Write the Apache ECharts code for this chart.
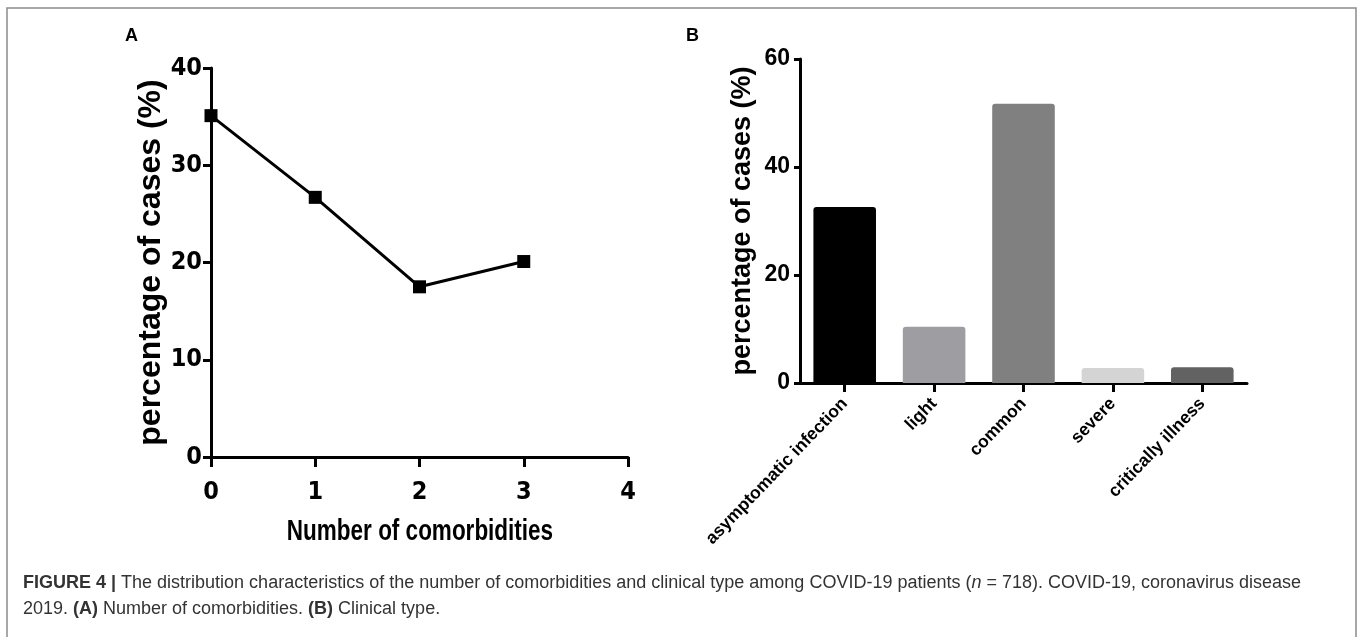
<!DOCTYPE html>
<html>
<head>
<meta charset="utf-8">
<script src="https://cdn.jsdelivr.net/npm/echarts@6/dist/echarts.min.js"></script>
<style>
html,body{margin:0;padding:0;background:#fff;}
#c{width:1358px;height:637px;}
</style>
</head>
<body>
<div id="c"></div>
<script>
// Panel A data
var comorbidities = [0, 1, 2, 3];
var pctA = [35.1, 26.7, 17.5, 20.1];
var xTicksA = [0, 1, 2, 3, 4];
// Panel B data
var clinicalTypes = ['asymptomatic infection', 'light', 'common', 'severe', 'critically illness'];
var pctB = [32.6, 10.4, 51.7, 2.8, 2.9];
var barColors = ['#000000', '#9e9ea2', '#808080', '#d4d4d4', '#626262'];

var narrow = "'Liberation Sans Narrow','DejaVu Sans Condensed','Arial Narrow',sans-serif";
var arial = "'Liberation Sans',Arial,sans-serif";

var chart = echarts.init(document.getElementById('c'), null, {renderer: 'canvas'});

var option = {
  backgroundColor: '#ffffff',
  animation: false,
  grid: [
    {left: 211, top: 68, width: 417, height: 389, containLabel: false},
    {left: 800, top: 59, width: 447, height: 324, containLabel: false}
  ],
  xAxis: [
    {
      type: 'value', gridIndex: 0, min: 0, max: 4, interval: 1,
      axisLine: {onZero: false, lineStyle: {color: '#000', width: 3}},
      axisTick: {show: true, length: 10, lineStyle: {color: '#000', width: 3}},
      axisLabel: {fontFamily: narrow, fontWeight: 'bold', fontSize: 25, color: '#000', margin: 23,
        formatter: function (v) { return xTicksA.indexOf(v) >= 0 ? String(v) : ''; }},
      splitLine: {show: false}
    },
    {
      type: 'category', gridIndex: 1, data: clinicalTypes, boundaryGap: true,
      axisLine: {lineStyle: {color: '#000', width: 3}},
      axisTick: {show: true, alignWithLabel: true, length: 9, lineStyle: {color: '#000', width: 3}},
      axisLabel: {rotate: 46, fontFamily: arial, fontWeight: 'bold', fontSize: 17.5, color: '#000', margin: 18, interval: 0},
      splitLine: {show: false}
    }
  ],
  yAxis: [
    {
      type: 'value', gridIndex: 0, min: 0, max: 40, interval: 10,
      name: 'percentage of cases (%)', nameLocation: 'middle', nameGap: 23, nameRotate: 90,
      nameTextStyle: {fontFamily: arial, fontWeight: 'bold', fontSize: 32, color: '#000'},
      axisLine: {onZero: false, show: true, lineStyle: {color: '#000', width: 3}},
      axisTick: {show: true, length: 8, lineStyle: {color: '#000', width: 3}},
      axisLabel: {fontFamily: narrow, fontWeight: 'bold', fontSize: 25, color: '#000', margin: 9},
      splitLine: {show: false}
    },
    {
      type: 'value', gridIndex: 1, min: 0, max: 60, interval: 20,
      name: 'percentage of cases (%)', nameLocation: 'middle', nameGap: 44, nameRotate: 90,
      nameTextStyle: {fontFamily: arial, fontWeight: 'bold', fontSize: 27, color: '#000'},
      axisLine: {onZero: false, show: true, lineStyle: {color: '#000', width: 3}},
      axisTick: {show: true, length: 6, lineStyle: {color: '#000', width: 3}},
      axisLabel: {fontFamily: arial, fontWeight: 'bold', fontSize: 23, color: '#000', margin: 10},
      splitLine: {show: false}
    }
  ],
  series: [
    {
      type: 'line', xAxisIndex: 0, yAxisIndex: 0,
      data: comorbidities.map(function (c, i) { return [c, pctA[i]]; }),
      symbol: 'rect', symbolSize: 13,
      lineStyle: {color: '#000', width: 3},
      itemStyle: {color: '#000'}
    },
    {
      type: 'bar', xAxisIndex: 1, yAxisIndex: 1,
      barWidth: '70%',
      data: pctB.map(function (v, i) {
        return {value: v, itemStyle: {color: barColors[i], borderRadius: [3, 3, 0, 0]}};
      })
    }
  ],
  graphic: [
    {type: 'polyline', silent: true, shape: {points: [[7, 660], [7, 8], [1356, 8], [1356, 660]]},
      style: {stroke: '#8c8c8c', lineWidth: 1.5, fill: null}},
    {type: 'text', left: 125, top: 27, style: {text: 'A', font: 'bold 18px ' + arial, fill: '#000'}},
    {type: 'text', left: 686, top: 27, style: {text: 'B', font: 'bold 18px ' + arial, fill: '#000'}},
    {type: 'text', x: 420, y: 532, scaleX: 0.75, style: {
      text: 'Number of comorbidities', font: 'bold 30px ' + arial, fill: '#000',
      textAlign: 'center', textVerticalAlign: 'middle'}},
    {type: 'text', left: 23, top: 570, style: {
      text: '{b|FIGURE 4 |} The distribution characteristics of the number of comorbidities and clinical type among COVID-19 patients ({i|n} = 718). COVID-19, coronavirus disease\n2019. {b|(A)} Number of comorbidities. {b|(B)} Clinical type.',
      font: '18px ' + arial, fill: '#333333', lineHeight: 26,
      rich: {
        b: {font: 'bold 18px ' + arial, fill: '#333333', lineHeight: 26},
        i: {font: 'italic 18px ' + arial, fill: '#333333', lineHeight: 26}
      }
    }}
  ]
};
chart.setOption(option);
</script>
</body>
</html>
